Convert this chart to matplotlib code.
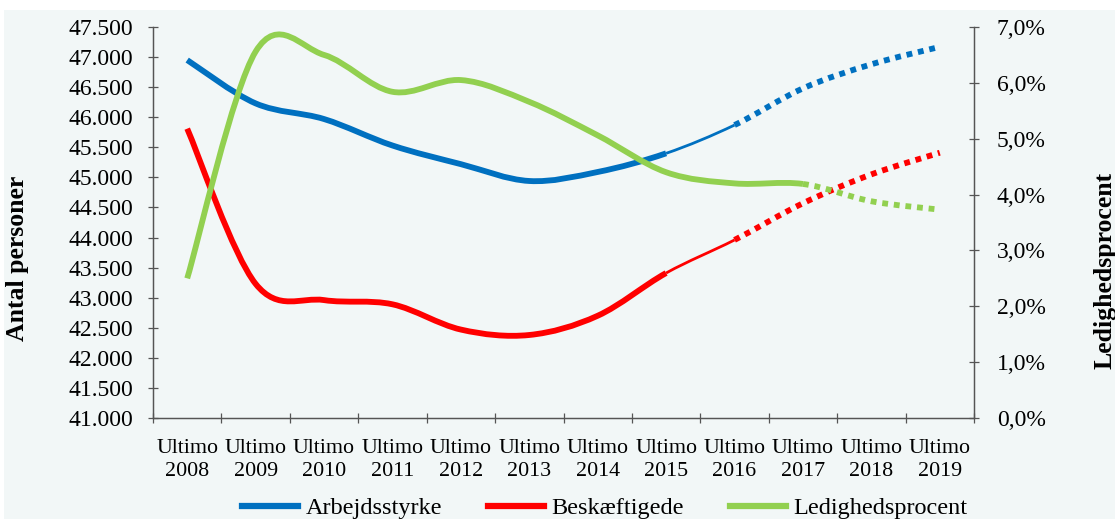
import matplotlib
matplotlib.use('Agg')
import matplotlib.pyplot as plt
from matplotlib.path import Path
from matplotlib.patches import PathPatch, Rectangle
from matplotlib.lines import Line2D
from matplotlib.ticker import FuncFormatter, FixedLocator

plt.rcParams['font.family'] = ['Liberation Serif', 'DejaVu Serif']

# Data
aar = ['Ultimo\n2008', 'Ultimo\n2009', 'Ultimo\n2010', 'Ultimo\n2011', 'Ultimo\n2012', 'Ultimo\n2013',
       'Ultimo\n2014', 'Ultimo\n2015', 'Ultimo\n2016', 'Ultimo\n2017', 'Ultimo\n2018', 'Ultimo\n2019']
arbejdsstyrke = [46950, 46230, 45970, 45530, 45220, 44940, 45090, 45400, 45870, 46480, 46880, 47170]
beskaeftigede = [45810, 43230, 42960, 42890, 42470, 42380, 42700, 43410, 43960, 44570, 45050, 45410]
ledighed = [2.50, 6.56, 6.50, 5.84, 6.05, 5.66, 5.06, 4.40, 4.20, 4.19, 3.88, 3.73]

blaa = '#0070C0'
roed = '#FF0000'
groen = '#92D050'
bg = '#f2f7f7'


def glat_sti(xs, ys, i0, i1):
    # Excel-lignende udglattet linje (Bezier) fra punkt i0 til i1
    n = len(xs)
    verts = [(xs[i0], ys[i0])]
    codes = [Path.MOVETO]
    for i in range(i0, i1):
        p0 = max(i - 1, 0)
        p3 = min(i + 2, n - 1)
        c1 = (xs[i] + (xs[i + 1] - xs[p0]) / 6, ys[i] + (ys[i + 1] - ys[p0]) / 6)
        c2 = (xs[i + 1] - (xs[p3] - xs[i]) / 6, ys[i + 1] - (ys[p3] - ys[i]) / 6)
        verts += [c1, c2, (xs[i + 1], ys[i + 1])]
        codes += [Path.CURVE4] * 3
    return Path(verts, codes)


fig = plt.figure(figsize=(11.15, 5.19), dpi=100)
fig.patch.set_facecolor('white')
fig.add_artist(Rectangle((4 / 1115, 0), 1, 1 - 10 / 519, transform=fig.transFigure,
                         facecolor=bg, edgecolor='none', zorder=-10))

ax = fig.add_axes([153 / 1115, 1 - 418 / 519, 821 / 1115, 391 / 519])
ax.set_facecolor('none')
ax2 = ax.twinx()

x = list(range(len(aar)))
tyk = 4.2
tynd = 2.0
prik = (0, (1, 1))

stil_ab = [(0, 7, tyk, '-'), (7, 8, tynd, '-'), (8, 11, tyk, prik)]
for a, b, lw, ls in stil_ab:
    ax.add_patch(PathPatch(glat_sti(x, arbejdsstyrke, a, b), fill=False, edgecolor=blaa,
                           lw=lw, linestyle=ls, capstyle='butt', joinstyle='round'))
    ax.add_patch(PathPatch(glat_sti(x, beskaeftigede, a, b), fill=False, edgecolor=roed,
                           lw=lw, linestyle=ls, capstyle='butt', joinstyle='round'))

for a, b, lw, ls in [(0, 9, tyk, '-'), (9, 11, tyk, prik)]:
    ax2.add_patch(PathPatch(glat_sti(x, ledighed, a, b), fill=False, edgecolor=groen,
                            lw=lw, linestyle=ls, capstyle='butt', joinstyle='round'))

ax.set_xlim(-0.5, len(aar) - 0.5)
ax.set_ylim(41000, 47500)
ax2.set_ylim(0, 7)

ax.set_yticks(range(41000, 47501, 500))
ax.yaxis.set_major_formatter(FuncFormatter(lambda v, p: f'{int(v):,}'.replace(',', '.')))
ax2.set_yticks([i for i in range(8)])
ax2.yaxis.set_major_formatter(FuncFormatter(lambda v, p: f'{v:.1f}%'.replace('.', ',')))

ax.xaxis.set_major_locator(FixedLocator([i - 0.5 for i in range(len(aar) + 1)]))
ax.xaxis.set_major_formatter(FuncFormatter(lambda v, p: ''))
ax.xaxis.set_minor_locator(FixedLocator(x))
ax.set_xticklabels(aar, minor=True)

spine_farve = '#555555'
for a_ in (ax, ax2):
    for s in a_.spines.values():
        s.set_color(spine_farve)
        s.set_linewidth(0.9)
    a_.spines['top'].set_visible(False)

ax.tick_params(axis='y', which='major', direction='inout', length=7, width=0.9,
               color=spine_farve, labelsize=17, pad=11)
ax2.tick_params(axis='y', which='major', direction='inout', length=7, width=0.9,
                color=spine_farve, labelsize=17, pad=13)
ax.tick_params(axis='x', which='major', direction='inout', length=7, width=0.9, color=spine_farve)
ax.tick_params(axis='x', which='minor', length=0, labelsize=15.8, pad=15)
for t in ax.get_xticklabels(minor=True):
    t.set_linespacing(1.3)

fig.text(18 / 1115, 1 - 258 / 519, 'Antal personer', rotation=90, fontsize=18.5,
         fontweight='bold', ha='center', va='center')
fig.text(1105 / 1115, 1 - 270 / 519, 'Ledighedsprocent', rotation=90, fontsize=18.5,
         fontweight='bold', ha='center', va='center')

handles = [Line2D([], [], color=blaa, lw=4.5),
           Line2D([], [], color=roed, lw=4.5),
           Line2D([], [], color=groen, lw=4.5)]
fig.legend(handles, ['Arbejdsstyrke', 'Beskæftigede', 'Ledighedsprocent'], ncol=3,
           loc='center', bbox_to_anchor=(605 / 1115, 1 - 508 / 519), frameon=False,
           fontsize=17.5, handlelength=2.3, handletextpad=0.3, columnspacing=1.9)

fig.savefig('out.png', dpi=100, facecolor=fig.get_facecolor())
